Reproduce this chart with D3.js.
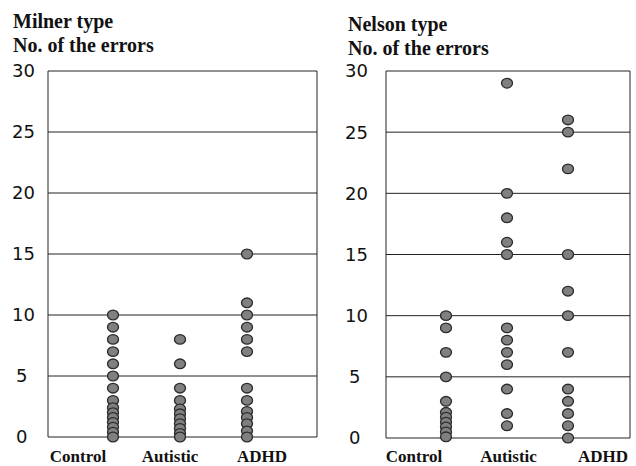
<!DOCTYPE html>
<html>
<head>
<meta charset="utf-8">
<script src="https://cdn.jsdelivr.net/npm/d3@7"></script>
<style>
  body { margin: 0; background: #fff; }
  .title { font-family: "Liberation Serif", "Times New Roman", serif; font-weight: bold; font-size: 20px; fill: #111; }
  .cat { font-family: "Liberation Serif", "Times New Roman", serif; font-weight: bold; font-size: 17px; fill: #111; }
  .tick-label { font-family: "DejaVu Sans", sans-serif; font-size: 18px; fill: #111; }
</style>
</head>
<body>
<div id="chart"></div>
<script>
// Categories and tick values
var categories = ["Control", "Autistic", "ADHD"];
var yTicks = [0, 5, 10, 15, 20, 25, 30];

// Milner type, number of errors per subject
var milnerControl = [10, 9, 8, 7, 6, 5, 4, 3, 2.4, 2, 1.6, 1.2, 0.8, 0.4, 0];
var milnerAutistic = [8, 6, 4, 3, 2.3, 1.9, 1.5, 1.1, 0.7, 0.3, 0];
var milnerADHD = [15, 11, 10, 9, 8, 7, 4, 3, 2.1, 1.6, 1.1, 0.5, 0];

// Nelson type, number of errors per subject
var nelsonControl = [10, 9, 7, 5, 3, 2.1, 1.7, 1.3, 0.9, 0.5, 0.1];
var nelsonAutistic = [29, 20, 18, 16, 15, 9, 8, 7, 6, 4, 2, 1];
var nelsonADHD = [26, 25, 22, 15, 12, 10, 7, 4, 3, 2, 1, 0];

var svgWidth = 636;
var svgHeight = 466;

var svg = d3.select("#chart")
  .append("svg")
  .attr("width", svgWidth)
  .attr("height", svgHeight);

// Panel settings (layout only)
var panels = [
  {
    title: "Milner type",
    series: [milnerControl, milnerAutistic, milnerADHD],
    left: 48, right: 317, top: 71, bottom: 437,
    titleX: 13, titleY: 28,
    tickX: 12,
    dotRange: [113, 247],
    labelRange: [78, 262]
  },
  {
    title: "Nelson type",
    series: [nelsonControl, nelsonAutistic, nelsonADHD],
    left: 386, right: 630, top: 71, bottom: 438,
    titleX: 348, titleY: 31,
    tickX: 345,
    dotRange: [446, 568],
    labelRange: [414, 603]
  }
];

panels.forEach(function (p) {
  var g = svg.append("g");

  var y = d3.scaleLinear().domain([0, 30]).range([p.bottom, p.top]);
  var xDots = d3.scalePoint().domain(categories).range(p.dotRange);
  var xLabels = d3.scalePoint().domain(categories).range(p.labelRange);

  // titles
  g.append("text").attr("class", "title")
    .attr("x", p.titleX).attr("y", p.titleY).text(p.title);
  g.append("text").attr("class", "title")
    .attr("x", p.titleX).attr("y", p.titleY + 24).text("No. of the errors");

  // horizontal gridlines
  g.selectAll(".grid")
    .data(yTicks)
    .enter()
    .append("line")
    .attr("x1", p.left)
    .attr("x2", p.right)
    .attr("y1", d => y(d))
    .attr("y2", d => y(d))
    .attr("stroke", "#222")
    .attr("stroke-width", 1);

  // side borders
  g.append("line")
    .attr("x1", p.left).attr("x2", p.left)
    .attr("y1", y(30)).attr("y2", y(0))
    .attr("stroke", "#222");
  g.append("line")
    .attr("x1", p.right).attr("x2", p.right)
    .attr("y1", y(30)).attr("y2", y(0))
    .attr("stroke", "#222");

  // tick labels (left aligned)
  g.selectAll(".tick-label")
    .data(yTicks)
    .enter()
    .append("text")
    .attr("class", "tick-label")
    .attr("x", d => d < 10 ? p.tickX + 4 : p.tickX)
    .attr("y", d => y(d))
    .attr("dy", "0.36em")
    .text(d => d);

  // dots
  p.series.forEach(function (vals, i) {
    g.selectAll(null)
      .data(vals)
      .enter()
      .append("ellipse")
      .attr("cx", xDots(categories[i]))
      .attr("cy", d => y(d))
      .attr("rx", 5.5)
      .attr("ry", 4.8)
      .attr("fill", "#808080")
      .attr("stroke", "#2a2a2a")
      .attr("stroke-width", 1.3);
  });

  // category labels
  g.selectAll(".cat")
    .data(categories)
    .enter()
    .append("text")
    .attr("class", "cat")
    .attr("x", d => xLabels(d))
    .attr("y", 462)
    .attr("text-anchor", "middle")
    .text(d => d);
});
</script>
</body>
</html>
